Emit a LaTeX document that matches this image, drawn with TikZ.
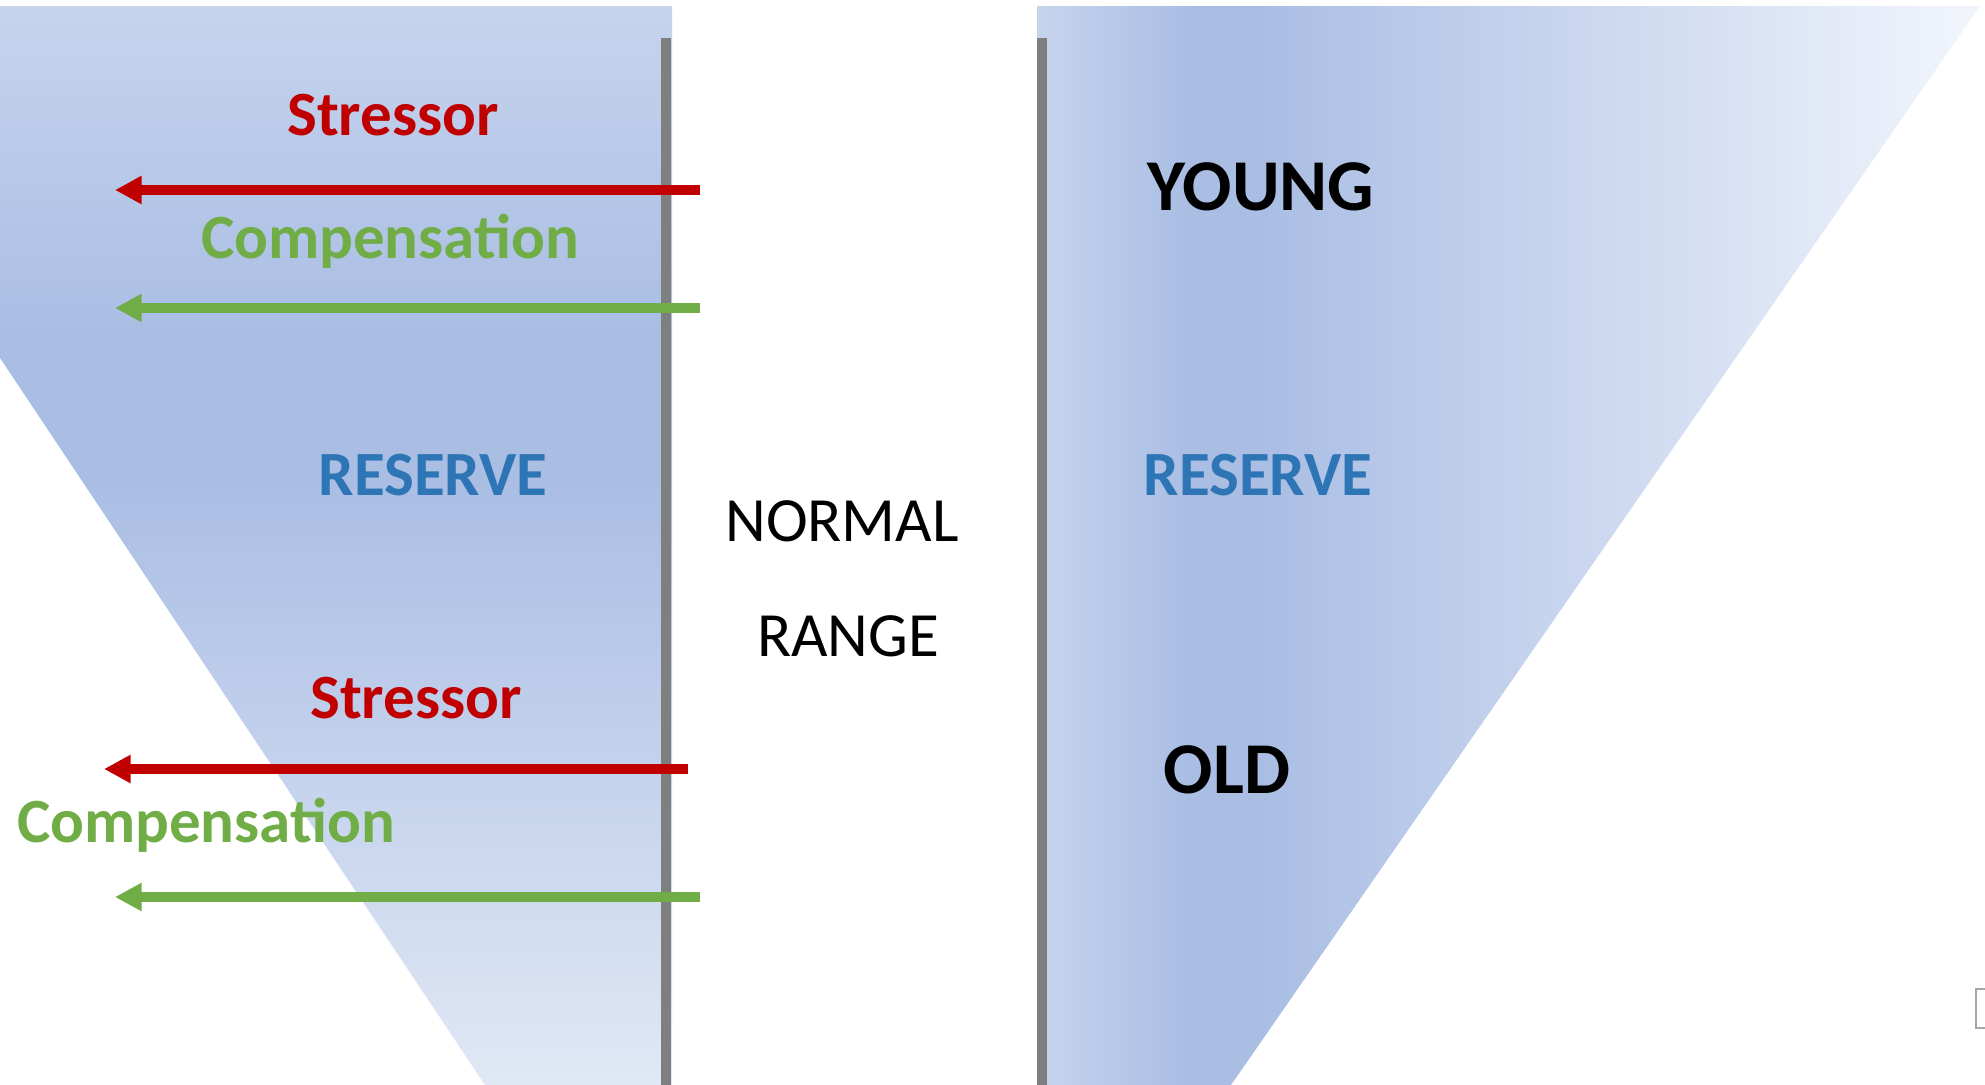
\documentclass[tikz,border=0pt]{standalone}
\usepackage{fontspec}
\setmainfont{Carlito}
\usepackage{tikz}
\usetikzlibrary{arrows.meta}

\definecolor{stresscol}{HTML}{C00000}
\definecolor{compcol}{HTML}{70AD47}
\definecolor{reservecol}{HTML}{2E75B6}
\definecolor{barcol}{HTML}{7F7F7F}
\definecolor{blueA}{HTML}{C6D4ED}
\definecolor{blueB}{HTML}{AABEE4}
\definecolor{blueC}{HTML}{E0E8F5}
\definecolor{blueD}{HTML}{F2F5FC}

\pgfdeclareverticalshading{leftreserve}{100bp}{color(0bp)=(blueC); color(25bp)=(blueC); color(53bp)=(blueB); color(60bp)=(blueB); color(75bp)=(blueA); color(100bp)=(blueA)}
\pgfdeclarehorizontalshading{rightreserve}{100bp}{color(0bp)=(blueA); color(25bp)=(blueA); color(33bp)=(blueB); color(37bp)=(blueB); color(75bp)=(blueD); color(100bp)=(blueD)}

\begin{document}
\begin{tikzpicture}[x=0.75pt,y=0.75pt,yscale=-1,xscale=1,
    txt/.style={inner sep=0pt, anchor=base, font=\fontsize{47.25}{56}\selectfont\bfseries},
    bigtxt/.style={inner sep=0pt, anchor=base, font=\fontsize{54.75}{64}\selectfont\bfseries},
    arr/.style={line width=7pt, -{Triangle[length=20pt,width=20pt]}}]
    \useasboundingbox (0,0) rectangle (1985,1085);

    %Shape: reserve funnels
    \path[shading=leftreserve] (0,6) -- (672,6) -- (672,1085) -- (485,1085) -- (0,358) -- cycle;
    \path[shading=rightreserve] (1037,6) -- (1980,6) -- (1231,1085) -- (1037,1085) -- cycle;

    %Bars
    \fill[barcol] (661,38) rectangle (671,1085);
    \fill[barcol] (1037,38) rectangle (1047,1085);

    %Arrows
    \coordinate (sA-start) at (700,190);
    \coordinate (sA-end) at (115,190);
    \coordinate (cA-start) at (700,308);
    \coordinate (cA-end) at (115,308);
    \coordinate (sB-start) at (688,769);
    \coordinate (sB-end) at (104,769);
    \coordinate (cB-start) at (700,897);
    \coordinate (cB-end) at (115,897);
    \draw[arr, stresscol] (sA-start) -- (sA-end);
    \draw[arr, compcol] (cA-start) -- (cA-end);
    \draw[arr, stresscol] (sB-start) -- (sB-end);
    \draw[arr, compcol] (cB-start) -- (cB-end);

    %Labels
    \node[txt, stresscol] (stressA) at (393,135) {Stressor};
    \node[txt, compcol] (compA) at (390,258) {Compensation};
    \node[txt, reservecol] (reserveL) at (433,495) {RESERVE};
    \node[txt, stresscol] (stressB) at (416,718) {Stressor};
    \node[txt, compcol] (compB) at (206,842) {Compensation};
    \node[txt, font=\fontsize{47.25}{56}\selectfont] (normal) at (842,541) {NORMAL};
    \node[txt, font=\fontsize{47.25}{56}\selectfont] (range) at (848,656) {RANGE};
    \node[bigtxt] (young) at (1261,210) {YOUNG};
    \node[txt, reservecol] (reserveR) at (1258,495) {RESERVE};
    \node[bigtxt] (old) at (1227,793) {OLD};

    %Corner mark
    \draw[line width=1.5pt, gray!70, fill=white] (1976,989) rectangle (1995,1028);
\end{tikzpicture}
\end{document}
